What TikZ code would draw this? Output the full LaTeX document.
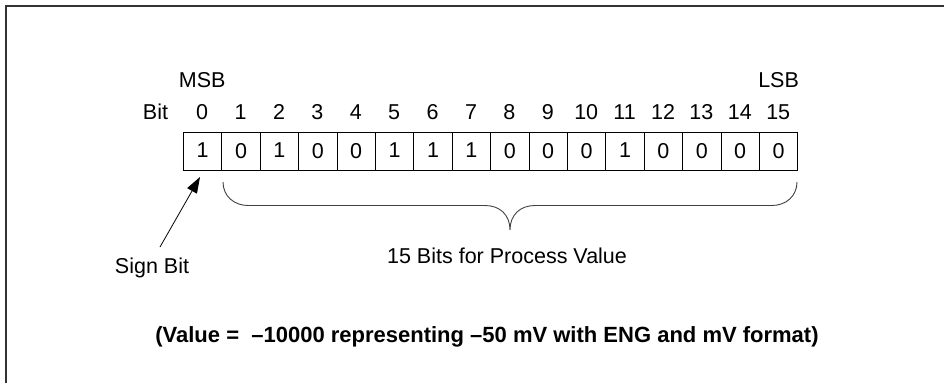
\documentclass[tikz,border=0pt]{standalone}
\usepackage{fontspec}
\setmainfont{Liberation Sans}
\usetikzlibrary{arrows.meta}
\begin{document}
\begin{tikzpicture}[x=1pt,y=-1pt,
  cell/.style={draw, line width=0.8pt, minimum width=38.4pt, minimum height=38.3pt,
    inner sep=0pt, anchor=north west, font=\fontsize{21.5}{25}\selectfont},
  lbl/.style={font=\fontsize{21.5}{25}\selectfont, inner sep=0pt},
  note/.style={font=\bfseries\fontsize{22}{26}\selectfont, inner sep=0pt},
  frameline/.style={line width=2pt, black!80},
  pointer/.style={line width=0.8pt, -{Triangle[length=16pt,width=11pt]}},
  brace/.style={line width=0.9pt, black!75}]
\useasboundingbox (0,0) rectangle (944,383);
% outer frame (top and left edges)
\draw[frameline] (6,383) -- (6,6) -- (944,6);
% register cells and bit numbers
\foreach \v [count=\i from 0] in {1,0,1,0,0,1,1,1,0,0,0,1,0,0,0,0}{
  \node[cell] (c\i) at ({183+\i*38.4},131.7) {\ifnum\v=1 \raisebox{2pt}{1}\else 0\fi};
  \node[lbl] (n\i) at ({202.2+\i*38.4},112) {\i};
}
\node[lbl] (bit) at (155.5,112) {Bit};
\node[lbl] (msb) at (202.2,80) {MSB};
\node[lbl] (lsb) at (778.6,80) {LSB};
% sign bit pointer
\node[lbl] (sign) at (152,268) {Sign Bit};
\coordinate (tail) at (160,247);
\coordinate (tip) at (200,177);
\draw[pointer] (tail) -- (tip);
% brace under bits 1..15
\draw[brace] (223,182) .. controls (223,196) and (234,205.5) .. (248,205.5)
  -- (485,205.5) .. controls (500,205.5) and (510,215) .. (510,230)
  .. controls (510,215) and (520,205.5) .. (535,205.5)
  -- (772,205.5) .. controls (786,205.5) and (797,196) .. (797,182);
\node[lbl] (proc) at (507,256) {15 Bits for Process Value};
% note line
\node[note] (value) at (487,337) {(Value = \ –10000 representing –50 mV with ENG and mV format)};
\end{tikzpicture}
\end{document}
